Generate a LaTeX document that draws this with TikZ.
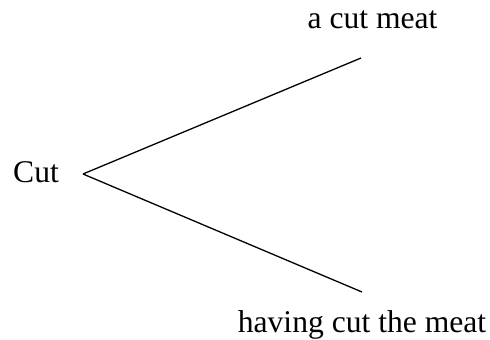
\documentclass[tikz,border=0pt]{standalone}
\usepackage{fontspec}
\setmainfont{Liberation Serif}
\begin{document}
\begin{tikzpicture}[x=1pt,y=-1pt,
    word/.style={inner sep=0pt,anchor=base,font=\fontsize{31.6}{38}\selectfont},
    branch/.style={line width=1.3pt}]
    \useasboundingbox (0,0) rectangle (490,340);
    \node[word,anchor=base west] (cut) at (13,182) {Cut};
    \node[word] (meat) at (372.5,28) {a cut meat};
    \node[word] (having) at (362,332) {having cut the meat};

    \coordinate (fork) at (83,174);
    \coordinate (up) at (361,58);
    \coordinate (down) at (362,292);
    \foreach \e in {up,down}
        {\draw[branch] (fork) -- (\e);}
\end{tikzpicture}
\end{document}
